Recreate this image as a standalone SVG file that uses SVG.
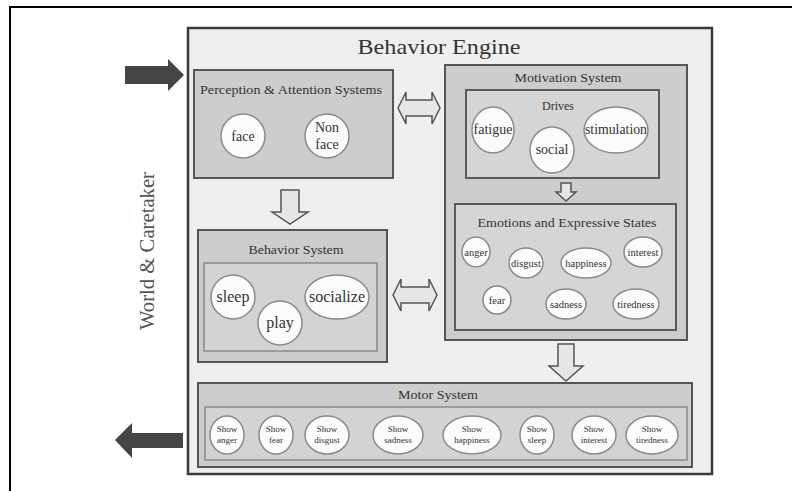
<svg xmlns="http://www.w3.org/2000/svg" width="792" height="491" viewBox="0 0 792 491" font-family="'Liberation Serif', 'DejaVu Serif', 'Times New Roman', serif">
<style>
  text { font-family: "Liberation Serif", "DejaVu Serif", "Times New Roman", serif; fill: #333; text-anchor: middle; }
  .sub { fill: #cdcdcd; stroke: #555; stroke-width: 2; }
  .inner { fill: #d5d5d5; stroke: #5a5a5a; stroke-width: 2; }
  .innerl { fill: #d3d3d3; stroke: #8a8a8a; stroke-width: 1.5; }
  .node { fill: #fbfbfb; stroke: #8a8a8a; stroke-width: 1.5; }
  .ttl { font-size: 12px; }
  .n16 { font-size: 16px; }
  .n14 { font-size: 14px; }
  .n11 { font-size: 10.5px; }
  .n9 { font-size: 9px; }
  .hollow { fill: #e6e6e6; stroke: #555; stroke-width: 1.5; }
  .solid { fill: #454545; }
</style>
<rect x="0" y="0" width="792" height="491" fill="#ffffff"/>
<line x1="9" y1="7" x2="792" y2="7" stroke="#000" stroke-width="2"/>
<line x1="10" y1="6" x2="10" y2="491" stroke="#000" stroke-width="2"/>

<g id="world">
  <text x="0" y="0" transform="translate(154,251) rotate(-90)" font-size="20" style="fill:#555" textLength="158" lengthAdjust="spacingAndGlyphs">World &amp; Caretaker</text>
</g>

<g id="engine">
  <rect x="188" y="28" width="524" height="446" fill="#efefef" stroke="#3a3a3a" stroke-width="2.5"/>
  <text x="439" y="54" font-size="22" textLength="163" lengthAdjust="spacingAndGlyphs">Behavior Engine</text>
</g>

<g id="perception">
  <rect class="sub" x="194" y="70" width="199" height="108"/>
  <text class="ttl" x="291" y="94" textLength="182" lengthAdjust="spacingAndGlyphs">Perception &amp; Attention Systems</text>
  <g id="face"><circle class="node" cx="243" cy="136" r="22"/><text class="n14" x="243" y="141">face</text></g>
  <g id="nonface"><circle class="node" cx="327" cy="136" r="22"/><text class="n14" x="327" y="132">Non</text><text class="n14" x="327" y="149">face</text></g>
</g>

<g id="motivation">
  <rect class="sub" x="445" y="65" width="242" height="275"/>
  <text class="ttl" x="568" y="82" textLength="107" lengthAdjust="spacingAndGlyphs">Motivation System</text>
  <g id="drives">
    <rect class="inner" x="466" y="90" width="193" height="88"/>
    <text class="ttl" x="558" y="110">Drives</text>
    <g id="fatigue"><ellipse class="node" cx="493" cy="130" rx="21" ry="23"/><text class="n14" x="493" y="134" textLength="39" lengthAdjust="spacingAndGlyphs">fatigue</text></g>
    <g id="social"><ellipse class="node" cx="552" cy="150" rx="22" ry="23"/><text class="n14" x="552" y="154">social</text></g>
    <g id="stimulation"><ellipse class="node" cx="616" cy="130" rx="32" ry="23"/><text class="n14" x="616" y="134" textLength="62" lengthAdjust="spacingAndGlyphs">stimulation</text></g>
  </g>
  <g id="emotions">
    <rect class="inner" x="455" y="204" width="221" height="126"/>
    <text class="ttl" x="567" y="227" textLength="179" lengthAdjust="spacingAndGlyphs">Emotions and Expressive States</text>
    <g id="anger"><ellipse class="node" cx="476" cy="252" rx="14" ry="15"/><text class="n11" x="476" y="256">anger</text></g>
    <g id="disgust"><ellipse class="node" cx="526" cy="263" rx="17" ry="15"/><text class="n11" x="526" y="267">disgust</text></g>
    <g id="happiness"><ellipse class="node" cx="586" cy="263" rx="25" ry="15"/><text class="n11" x="586" y="267">happiness</text></g>
    <g id="interest"><ellipse class="node" cx="643" cy="252" rx="19" ry="15"/><text class="n11" x="643" y="256">interest</text></g>
    <g id="fear"><ellipse class="node" cx="497" cy="300" rx="14" ry="14"/><text class="n11" x="497" y="304">fear</text></g>
    <g id="sadness"><ellipse class="node" cx="566" cy="304" rx="20" ry="15"/><text class="n11" x="566" y="308">sadness</text></g>
    <g id="tiredness"><ellipse class="node" cx="636" cy="304" rx="23" ry="15"/><text class="n11" x="636" y="308">tiredness</text></g>
  </g>
</g>

<g id="behavior">
  <rect class="sub" x="198" y="230" width="189" height="132"/>
  <text class="ttl" x="296" y="254" textLength="95" lengthAdjust="spacingAndGlyphs">Behavior System</text>
  <rect class="innerl" x="204" y="263" width="173" height="88"/>
  <g id="sleep"><ellipse class="node" cx="233" cy="297" rx="22" ry="22"/><text class="n16" x="233" y="302">sleep</text></g>
  <g id="play"><ellipse class="node" cx="280" cy="323" rx="22" ry="22"/><text class="n16" x="280" y="328">play</text></g>
  <g id="socialize"><ellipse class="node" cx="337" cy="297" rx="32" ry="22"/><text class="n16" x="337" y="302">socialize</text></g>
</g>

<g id="motor">
  <rect class="sub" x="198" y="383" width="494" height="84"/>
  <text class="ttl" x="438" y="399" textLength="80" lengthAdjust="spacingAndGlyphs">Motor System</text>
  <rect class="innerl" x="205" y="407" width="482" height="53"/>
  <g id="m-anger"><ellipse class="node" cx="227" cy="435" rx="17" ry="19"/><text class="n9" x="227" y="432">Show</text><text class="n9" x="227" y="443">anger</text></g>
  <g id="m-fear"><ellipse class="node" cx="276" cy="435" rx="17" ry="19"/><text class="n9" x="276" y="432">Show</text><text class="n9" x="276" y="443">fear</text></g>
  <g id="m-disgust"><ellipse class="node" cx="327" cy="435" rx="22" ry="19"/><text class="n9" x="327" y="432">Show</text><text class="n9" x="327" y="443">disgust</text></g>
  <g id="m-sadness"><ellipse class="node" cx="398" cy="435" rx="25" ry="19"/><text class="n9" x="398" y="432">Show</text><text class="n9" x="398" y="443">sadness</text></g>
  <g id="m-happiness"><ellipse class="node" cx="472" cy="435" rx="29" ry="19"/><text class="n9" x="472" y="432">Show</text><text class="n9" x="472" y="443">happiness</text></g>
  <g id="m-sleep"><ellipse class="node" cx="537" cy="435" rx="17" ry="19"/><text class="n9" x="537" y="432">Show</text><text class="n9" x="537" y="443">sleep</text></g>
  <g id="m-interest"><ellipse class="node" cx="594" cy="435" rx="22" ry="19"/><text class="n9" x="594" y="432">Show</text><text class="n9" x="594" y="443">interest</text></g>
  <g id="m-tiredness"><ellipse class="node" cx="652" cy="435" rx="26" ry="19"/><text class="n9" x="652" y="432">Show</text><text class="n9" x="652" y="443">tiredness</text></g>
</g>

<g id="connectors">
  <path class="solid" d="M125,66 H168 V59 L184,75 L168,91 V84 H125 Z"/>
  <path class="solid" d="M115,440 L132,423 V433 H183 V448 H132 V458 Z"/>
  <path class="hollow" d="M398,108 L406,92 V100 H432 V92 L440,108 L432,124 V116 H406 V124 Z"/>
  <path class="hollow" d="M393,295 L401,279 V287 H429 V279 L437,295 L429,311 V303 H401 V311 Z"/>
  <path class="hollow" d="M281,190 H299 V212 H308 L290,224 L272,212 H281 Z"/>
  <path class="hollow" d="M561,183 H571 V192 H576 L566,201 L556,192 H561 Z"/>
  <path class="hollow" d="M558,344 H574 V366 H583 L566,381 L549,366 H558 Z"/>
</g>
</svg>
